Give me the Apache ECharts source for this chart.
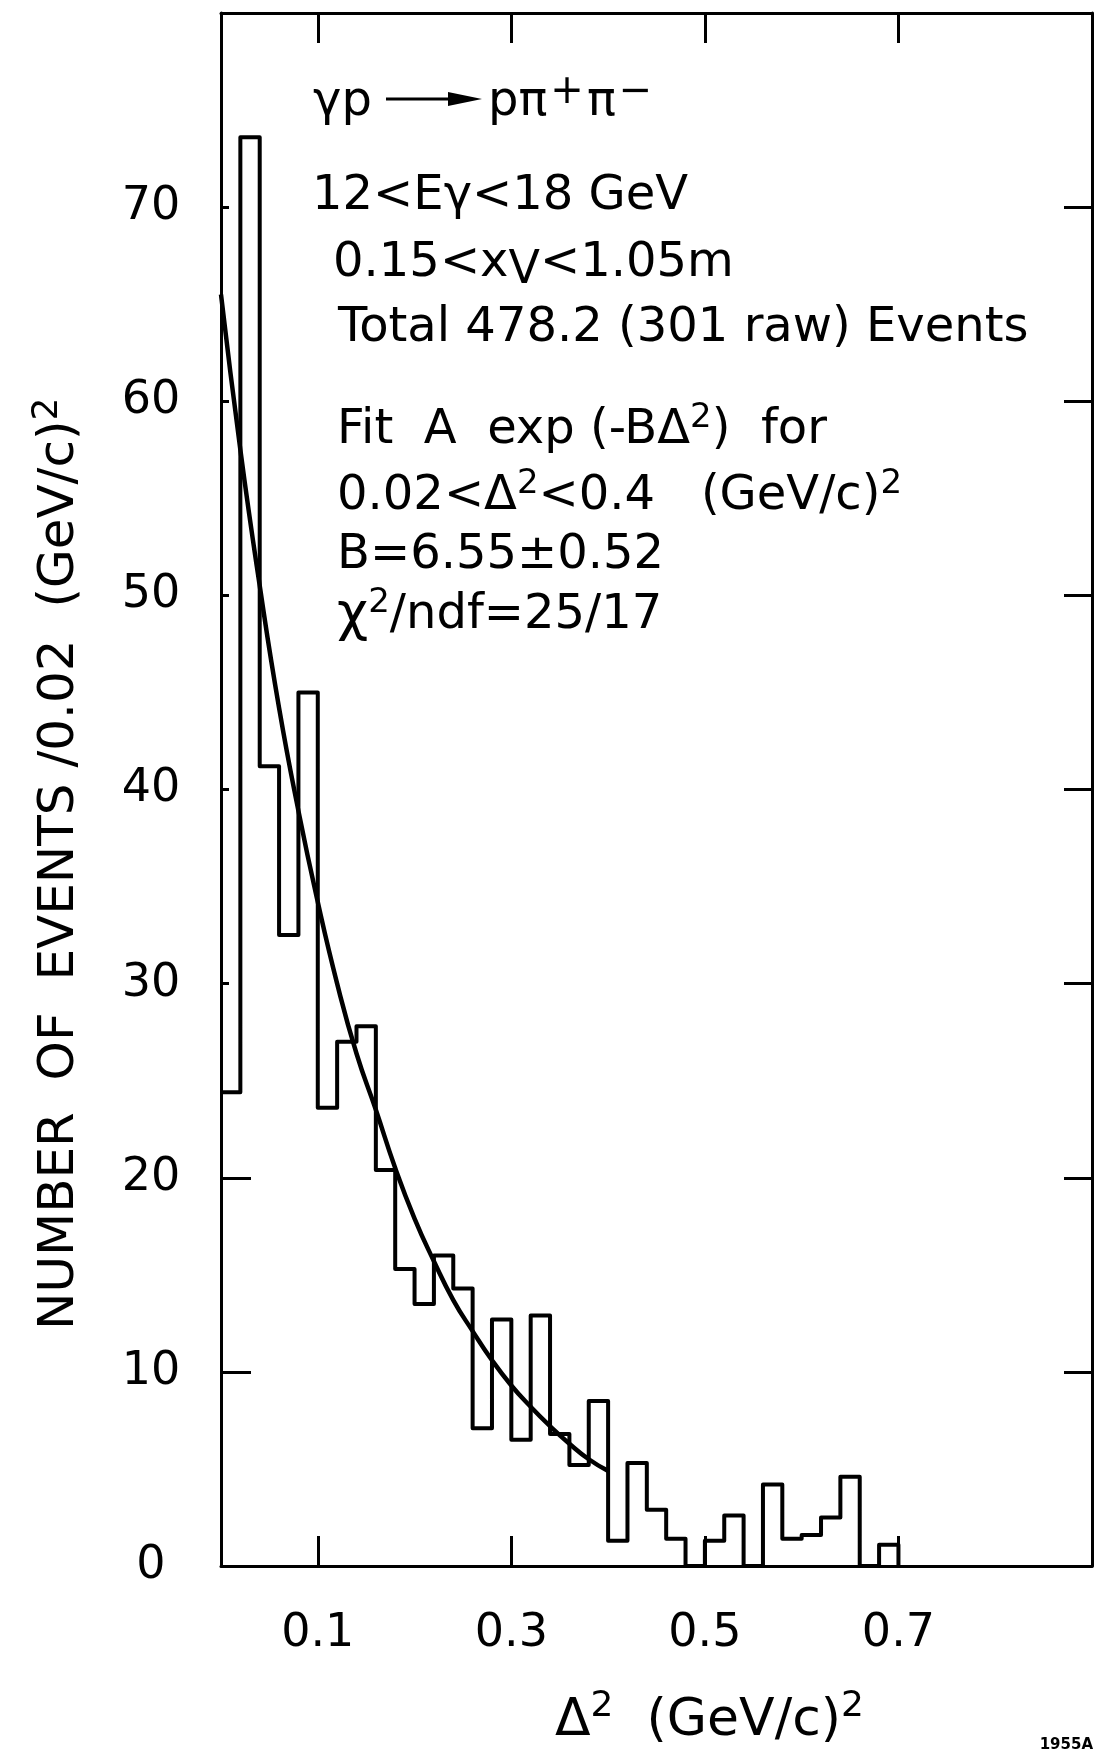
<!DOCTYPE html>
<html>
<head>
<meta charset="utf-8">
<title>Delta^2 distribution, gamma p -> p pi+ pi-</title>
<script src="https://cdn.jsdelivr.net/npm/echarts@6/dist/echarts.min.js"></script>
<style>
  html, body { margin: 0; padding: 0; background: #fff; }
  #chart { width: 1094px; height: 1753px; }
</style>
</head>
<body>
<div id="chart"></div>
<script>
// histogram: lower edge of each 0.02 (GeV/c)^2 bin and the events in it
const binWidth = 0.02
const binLow = [0.00, 0.02, 0.04, 0.06, 0.08, 0.10, 0.12, 0.14, 0.16, 0.18,
                0.20, 0.22, 0.24, 0.26, 0.28, 0.30, 0.32, 0.34, 0.36, 0.38,
                0.40, 0.42, 0.44, 0.46, 0.48, 0.50, 0.52, 0.54, 0.56, 0.58,
                0.60, 0.62, 0.64, 0.66, 0.68]
const counts = [24.4, 73.6, 41.2, 32.5, 45.0, 23.6, 27.0, 27.8, 20.4, 15.3,
                13.5, 16.0, 14.3, 7.1, 12.7, 6.5, 12.9, 6.8, 5.2, 8.5,
                1.3, 5.3, 2.9, 1.4, 0, 1.3, 2.6, 0, 4.2, 1.4,
                1.6, 2.5, 4.6, 0, 1.1]

// fitted curve A exp(-B delta^2)
const fitX = [0.00, 0.02, 0.04, 0.06, 0.08, 0.10, 0.12, 0.14, 0.16, 0.18,
              0.20, 0.22, 0.24, 0.26, 0.28, 0.30, 0.32, 0.34, 0.36, 0.38, 0.40]
const fitY = [65.5, 57.5, 50.5, 44.2, 38.9, 34.2, 30.0, 26.4, 23.5, 20.5,
              17.9, 15.7, 13.7, 12.1, 10.6, 9.3, 8.2, 7.2, 6.3, 5.5, 4.9]

// tick values
const xTicks = [0.1, 0.3, 0.5, 0.7]
const yLabels = [0, 10, 20, 30, 40, 50, 60, 70]
const yLongLeft = [10, 20]
const yShortLeft = [30, 40, 50, 60, 70]
const yRight = [10, 20, 30, 40, 50, 60, 70]

const FONT = '"DejaVu Sans", sans-serif'

const histData = binLow.map((x, i) => [x, counts[i]])
const lastEdge = +(binLow[binLow.length - 1] + binWidth).toFixed(2)
histData.push([lastEdge, counts[counts.length - 1]])
histData.push([lastEdge, 0])

const fitData = fitX.map((x, i) => [x, fitY[i]])

const rich = {
    n: { fontSize: 48, lineHeight: 60, fontFamily: FONT },
    big: { fontSize: 54, lineHeight: 60, fontFamily: FONT },
    sup: { fontSize: 34, lineHeight: 24, verticalAlign: 'top', fontFamily: FONT },
    pm: { fontSize: 40, lineHeight: 30, verticalAlign: 'top', fontFamily: FONT, padding: [0, 3, 0, 3] },
    sub: { fontSize: 46, lineHeight: 22, verticalAlign: 'bottom', fontFamily: FONT },
    t: { fontSize: 52, lineHeight: 64, fontFamily: FONT },
    ts: { fontSize: 36, lineHeight: 26, verticalAlign: 'top', fontFamily: FONT }
}

// one line of text; baseline is the y of the letters' foot
function textLine(x, baseline, text) {
    return {
        type: 'text',
        x: x,
        y: baseline - 42,
        z: 100,
        style: {
            text: text,
            rich: rich,
            fill: '#000',
            fontSize: 48,
            fontFamily: FONT,
            align: 'left',
            verticalAlign: 'top'
        }
    }
}

function frameLine() {
    return { show: true, onZero: false, lineStyle: { color: '#000', width: 3 } }
}

function ticks(values, len) {
    return { show: true, inside: true, length: len, customValues: values,
             lineStyle: { color: '#000', width: 3 } }
}

const chart = echarts.init(document.getElementById('chart'))

chart.setOption({
    animation: false,
    backgroundColor: '#fff',
    grid: { left: 221, right: 2, top: 13, bottom: 187 },
    xAxis: [
        {
            type: 'value',
            position: 'bottom',
            min: 0,
            max: 0.9,
            splitLine: { show: false },
            axisLine: frameLine(),
            axisTick: ticks(xTicks, 30),
            axisLabel: {
                customValues: xTicks,
                fontSize: 46,
                fontFamily: FONT,
                color: '#000',
                margin: 68,
                verticalAlign: 'middle',
                formatter: v => (Math.round(v * 10) / 10).toFixed(1)
            }
        },
        {
            type: 'value',
            position: 'top',
            min: 0,
            max: 0.9,
            splitLine: { show: false },
            axisLine: frameLine(),
            axisTick: ticks(xTicks, 30),
            axisLabel: { show: false }
        }
    ],
    yAxis: [
        {
            type: 'value',
            position: 'left',
            min: 0,
            max: 80,
            interval: 10,
            splitLine: { show: false },
            axisLine: frameLine(),
            axisTick: ticks(yShortLeft, 8),
            axisLabel: {
                customValues: yLabels,
                fontSize: 46,
                fontFamily: FONT,
                color: '#000',
                align: 'center',
                margin: 70
            }
        },
        {
            type: 'value',
            position: 'left',
            min: 0,
            max: 80,
            splitLine: { show: false },
            axisLine: { show: false, onZero: false },
            axisTick: ticks(yLongLeft, 30),
            axisLabel: { show: false }
        },
        {
            type: 'value',
            position: 'right',
            min: 0,
            max: 80,
            splitLine: { show: false },
            axisLine: frameLine(),
            axisTick: ticks(yRight, 28),
            axisLabel: { show: false }
        }
    ],
    series: [
        {
            name: 'events',
            type: 'line',
            step: 'end',
            xAxisIndex: 0,
            yAxisIndex: 0,
            symbol: 'none',
            lineStyle: { color: '#000', width: 4, join: 'round' },
            data: histData
        },
        {
            name: 'fit',
            type: 'line',
            smooth: true,
            xAxisIndex: 0,
            yAxisIndex: 0,
            symbol: 'none',
            lineStyle: { color: '#000', width: 4.5 },
            data: fitData
        }
    ],
    graphic: [
        textLine(313, 115, '{n|γp}'),
        { type: 'line', z: 100, shape: { x1: 386, y1: 99, x2: 460, y2: 99 },
          style: { stroke: '#000', lineWidth: 3 } },
        { type: 'polygon', z: 100, shape: { points: [[448, 92], [482, 99], [448, 106]] },
          style: { fill: '#000' } },
        textLine(488, 115, '{n|pπ}{pm|+}{n|π}{pm|−}'),
        textLine(312, 209, '{n|12<Eγ<18 GeV}'),
        textLine(333, 276, '{n|0.15<x}{sub|V}{n|<1.05m}'),
        textLine(338, 341, '{n|Total 478.2 (301 raw) Events}'),
        textLine(337, 443, '{n|Fit  A  exp (-BΔ}{sup|2}{n|)  for}'),
        textLine(337, 509, '{n|0.02<Δ}{sup|2}{n|<0.4   (GeV/c)}{sup|2}'),
        textLine(337, 568, '{n|B=6.55±0.52}'),
        textLine(337, 628, '{big|χ}{sup|2}{n|/ndf=25/17}'),
        // x axis title
        {
            type: 'text',
            x: 555,
            y: 1734 - 45,
            z: 100,
            style: {
                text: '{t|Δ}{ts|2}{t|  (GeV/c)}{ts|2}',
                rich: rich,
                fill: '#000',
                fontSize: 52,
                fontFamily: FONT,
                align: 'left',
                verticalAlign: 'top'
            }
        },
        // y axis title, reading upwards
        {
            type: 'text',
            x: 60,
            y: 1330,
            z: 100,
            rotation: Math.PI / 2,
            style: {
                text: '{y|NUMBER  OF  EVENTS /0.02  (GeV/c)}{ys|2}',
                rich: {
                    y: { fontSize: 50, lineHeight: 60, fontFamily: FONT },
                    ys: { fontSize: 36, lineHeight: 22, verticalAlign: 'top', fontFamily: FONT }
                },
                fill: '#000',
                fontSize: 50,
                fontFamily: FONT,
                align: 'left',
                verticalAlign: 'middle'
            }
        },
        {
            type: 'text',
            x: 1093,
            y: 1745,
            z: 100,
            style: {
                text: '1955A',
                fill: '#000',
                font: 'bold 15px ' + FONT,
                align: 'right',
                verticalAlign: 'middle'
            }
        }
    ]
})
</script>
</body>
</html>
